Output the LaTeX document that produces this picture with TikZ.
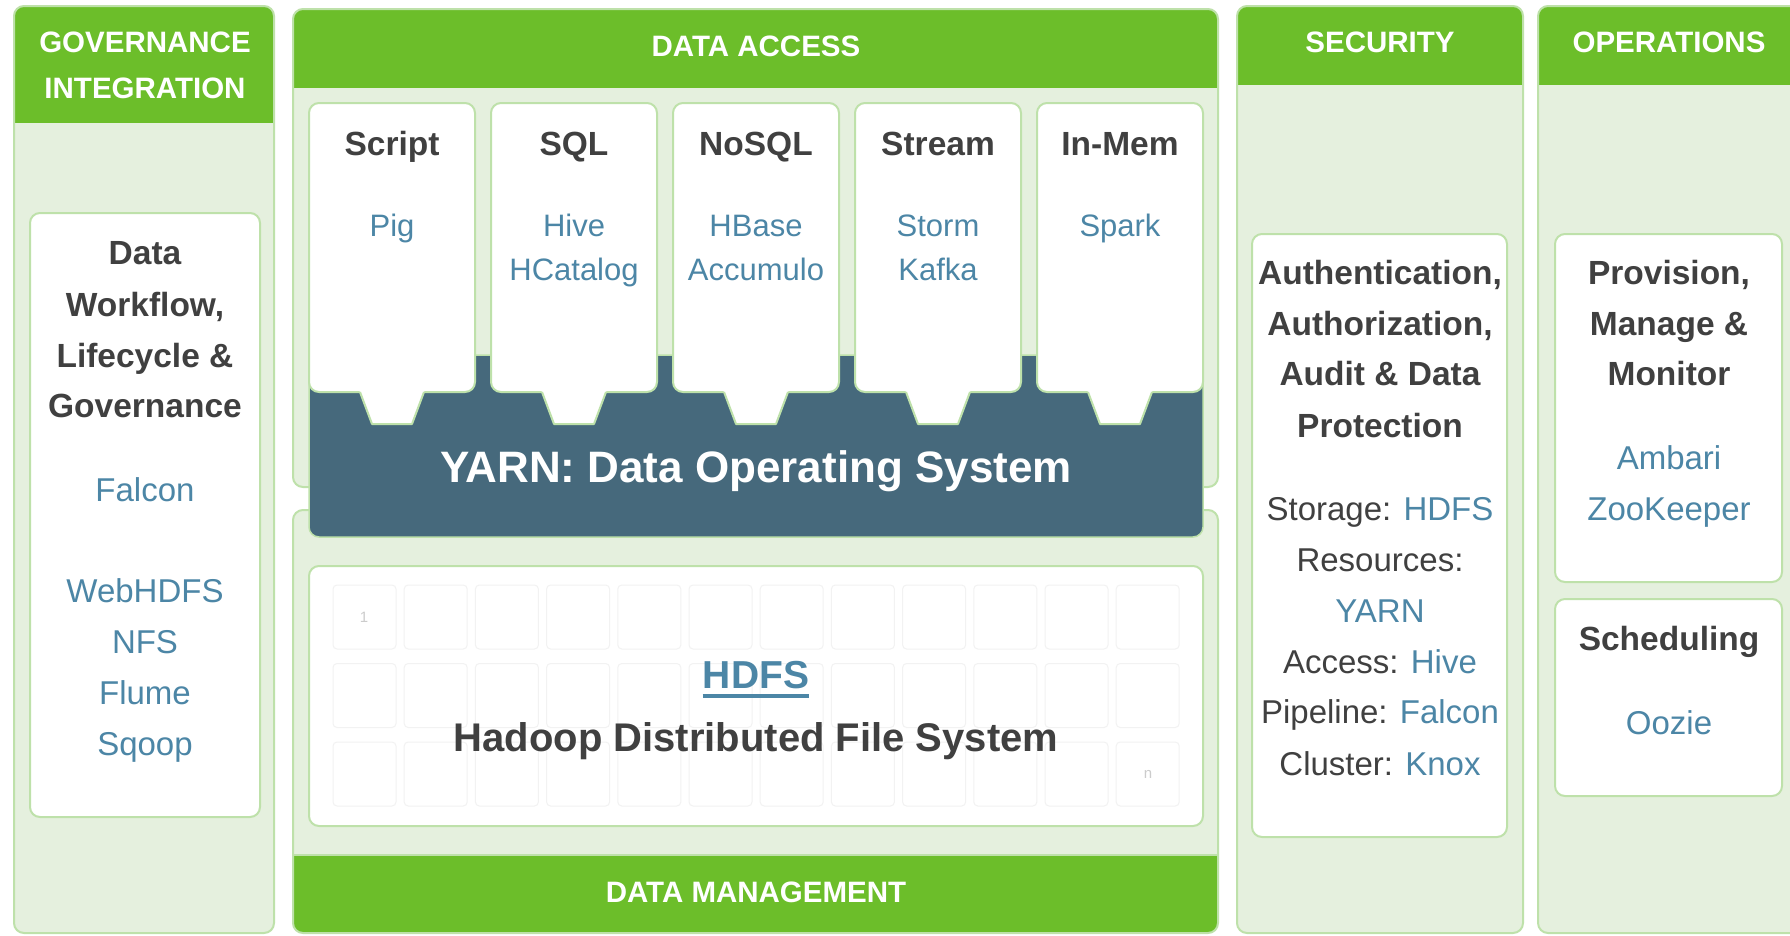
\documentclass[tikz,border=0pt]{standalone}
\usepackage{fontspec}
\setmainfont{Liberation Sans}
\definecolor{hgreen}{RGB}{108,190,42}
\definecolor{panelbg}{RGB}{229,240,222}
\definecolor{pborder}{RGB}{190,225,170}
\definecolor{yarnc}{RGB}{70,105,124}
\definecolor{lblue}{RGB}{76,134,166}
\definecolor{tgray}{RGB}{64,64,64}
\newcommand\mypanel[6]{%
  \fill[panelbg, rounded corners=10] (#1,#2) rectangle (#3,#4);
  \begin{scope}
    \clip[rounded corners=10] (#1,#2) rectangle (#3,#4);
    \fill[hgreen] (#1,#5) rectangle (#3,#6);
  \end{scope}
  \draw[pborder, line width=2, rounded corners=10] (#1,#2) rectangle (#3,#4);
}
\begin{document}
\begin{tikzpicture}[x=1pt,y=-1pt,
  hdr/.style={inner sep=0, anchor=base, yshift=-10.6pt, text=white, font=\bfseries\fontsize{29.5}{34}\selectfont},
  ttl/.style={inner sep=0, anchor=base, yshift=-12pt, text=tgray, font=\bfseries\fontsize{33.5}{40}\selectfont},
  lnk/.style={inner sep=0, anchor=base, yshift=-11.9pt, text=lblue, font=\fontsize{33}{40}\selectfont},
  body/.style={inner sep=0, anchor=base, yshift=-11.9pt, text=tgray, font=\fontsize{33}{40}\selectfont},
  clnk/.style={inner sep=0, anchor=base, yshift=-11.2pt, text=lblue, font=\fontsize{31}{38}\selectfont},
  wbox/.style={fill=white, draw=pborder, line width=2, rounded corners=10},
  cell/.style={draw=black!5, line width=1, rounded corners=4},
  faint/.style={inner sep=0, text=black!20, font=\fontsize{15}{18}\selectfont}]
\useasboundingbox (0,0) rectangle (1790,935);
\clip (0,0) rectangle (1790,935);
\fill[white] (0,0) rectangle (1790,935);

% panels
\mypanel{14}{6}{274}{933}{6}{123}
\mypanel{293}{9}{1218}{487}{9}{88}
\mypanel{293}{510}{1218}{933}{855}{933}
\draw[pborder, line width=1.5] (293,855) -- (1218,855);
\mypanel{1237}{6}{1523}{933}{6}{85}
\mypanel{1538}{6}{1815}{933}{6}{85}

% YARN
\filldraw[fill=yarnc, draw=pborder, line width=1.5, rounded corners=10] (309,355) rectangle (1203,537);

% access columns with tabs
\foreach \cx in {392,574,756,938,1120}{
  \draw[wbox] (\cx-83,103) rectangle (\cx+83,392);
  \fill[white] (\cx-33.5,388) -- (\cx+33.5,388) -- (\cx+20,424) -- (\cx-20,424) -- cycle;
  \draw[pborder, line width=2, line join=round] (\cx-32,392) -- (\cx-20,424) -- (\cx+20,424) -- (\cx+32,392);
}

% HDFS box
\draw[wbox] (309,566) rectangle (1203,826);
\foreach \i in {0,...,11}{
  \foreach \j in {0,1,2}{
    \draw[cell] (333+71.2*\i,585+78.5*\j) rectangle +(63,64);
  }
}
\node[faint] (c1) at (364,617) {1};
\node[faint] (cn) at (1148,774) {n};

% inner white boxes
\draw[wbox] (30,213) rectangle (260,817);
\draw[wbox] (1252,234) rectangle (1507,837);
\draw[wbox] (1555,234) rectangle (1782,582);
\draw[wbox] (1555,599) rectangle (1782,796);

% headers
\node[hdr] (gov1) at (145,42) {GOVERNANCE};
\node[hdr] (gov2) at (145,88) {INTEGRATION};
\node[hdr] (dacc) at (756,46) {DATA ACCESS};
\node[hdr] (sec) at (1380,42) {SECURITY};
\node[hdr] (ops) at (1669,42) {OPERATIONS};
\node[hdr] (dmgmt) at (756,892) {DATA MANAGEMENT};

% governance box text
\node[ttl] (g1) at (145,252) {Data};
\node[ttl] (g2) at (145,304) {Workflow,};
\node[ttl] (g3) at (145,355) {Lifecycle \&};
\node[ttl] (g4) at (145,405) {Governance};
\node[lnk] (g5) at (145,490) {Falcon};
\node[lnk] (g6) at (145,591) {WebHDFS};
\node[lnk] (g7) at (145,642) {NFS};
\node[lnk] (g8) at (145,693) {Flume};
\node[lnk] (g9) at (145,744) {Sqoop};

% columns text
\node[ttl] (t1) at (392,143) {Script};
\node[clnk] (t1a) at (392,225) {Pig};
\node[ttl] (t2) at (574,143) {SQL};
\node[clnk] (t2a) at (574,225) {Hive};
\node[clnk] (t2b) at (574,269) {HCatalog};
\node[ttl] (t3) at (756,143) {NoSQL};
\node[clnk] (t3a) at (756,225) {HBase};
\node[clnk] (t3b) at (756,269) {Accumulo};
\node[ttl] (t4) at (938,143) {Stream};
\node[clnk] (t4a) at (938,225) {Storm};
\node[clnk] (t4b) at (938,269) {Kafka};
\node[ttl] (t5) at (1120,143) {In-Mem};
\node[clnk] (t5a) at (1120,225) {Spark};

% YARN text
\node[inner sep=0, anchor=base, yshift=-15.8pt, text=white, font=\bfseries\fontsize{44}{50}\selectfont] (yarn) at (756,467) {YARN: Data Operating System};

% HDFS text
\node[inner sep=0, anchor=base, yshift=-14pt, text=lblue, font=\bfseries\fontsize{39}{46}\selectfont] (hdfs) at (756,674) {HDFS};
\draw[lblue, line width=3.4] ([yshift=-8pt]hdfs.base west) -- ([yshift=-8pt]hdfs.base east);
\node[inner sep=0, anchor=base, yshift=-14.4pt, text=tgray, font=\bfseries\fontsize{40}{46}\selectfont] (hadoop) at (756,737) {Hadoop Distributed File System};

% security text
\node[ttl] (s1) at (1380,272) {Authentication,};
\node[ttl] (s2) at (1380,323) {Authorization,};
\node[ttl] (s3) at (1380,373) {Audit \& Data};
\node[ttl] (s4) at (1380,425) {Protection};
\node[body] (s5) at (1380,509) {Storage: \textcolor{lblue}{HDFS}};
\node[body] (s6) at (1380,560) {Resources:};
\node[lnk] (s7) at (1380,611) {YARN};
\node[body] (s8) at (1380,662) {Access: \textcolor{lblue}{Hive}};
\node[body] (s9) at (1380,712) {Pipeline: \textcolor{lblue}{Falcon}};
\node[body] (s10) at (1380,764) {Cluster: \textcolor{lblue}{Knox}};

% operations text
\node[ttl] (o1) at (1669,272) {Provision,};
\node[ttl] (o2) at (1669,323) {Manage \&};
\node[ttl] (o3) at (1669,373) {Monitor};
\node[lnk] (o4) at (1669,458) {Ambari};
\node[lnk] (o5) at (1669,509) {ZooKeeper};
\node[ttl] (o6) at (1669,638) {Scheduling};
\node[lnk] (o7) at (1669,723) {Oozie};
\end{tikzpicture}
\end{document}
